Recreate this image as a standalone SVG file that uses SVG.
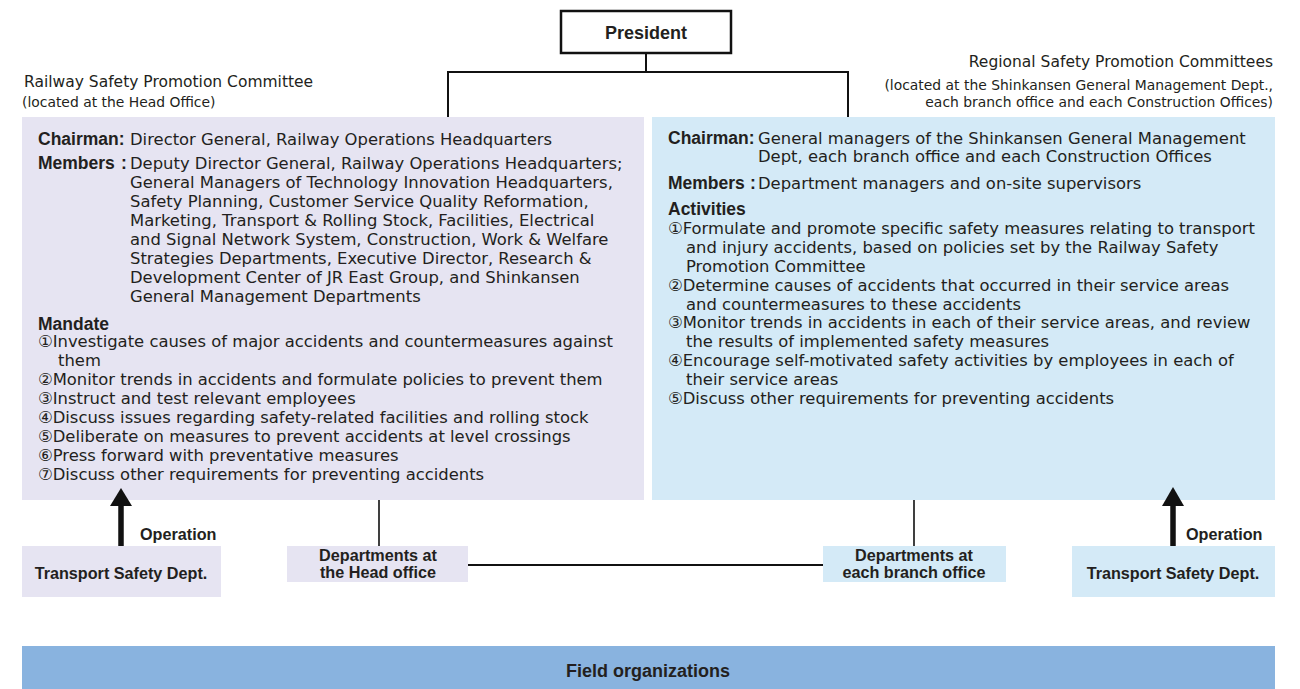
<svg xmlns="http://www.w3.org/2000/svg" width="1300" height="689" viewBox="0 0 1300 689">
<defs>
<style>
text{font-family:"DejaVu Sans","Noto Sans CJK JP",sans-serif;fill:#231f20}
.lb{font-family:"Liberation Sans","DejaVu Sans",sans-serif;font-weight:bold}
.t{font-size:16.4px}
.k{font-size:17.5px}
.h{font-size:16.2px}
.s{font-size:13.9px}
.lav{fill:#e6e4f2}
.blu{fill:#d4eaf7}
.ln{stroke:#111;stroke-width:2;fill:none}
.thin{stroke:#111;stroke-width:1.6;fill:none}
.shaft{stroke:#111;stroke-width:5.5;fill:none}
.head{fill:#111}
.mid{text-anchor:middle}
.end{text-anchor:end}
</style>
</defs>
<rect width="1300" height="689" fill="#fff"/>

<g id="president">
<rect x="561" y="11" width="170" height="42" fill="#fff" stroke="#111" stroke-width="2.5"/>
<text class="lb mid" x="646" y="39" font-size="18">President</text>
</g>

<g id="railway-committee">
<text x="24" y="87" font-size="15.5">Railway Safety Promotion Committee</text>
<text class="s" x="22" y="107">(located at the Head Office)</text>
<rect class="lav" x="22" y="117" width="622" height="383"/>
<text class="lb k" x="38" y="145">Chairman:</text>
<text class="t" x="130" y="145">Director General, Railway Operations Headquarters</text>
<text class="lb k" x="38" y="169">Members</text><text class="lb k" x="121" y="169">:</text>
<text class="t" x="130" y="169">Deputy Director General, Railway Operations Headquarters;</text>
<text class="t" x="130" y="188">General Managers of Technology Innovation Headquarters,</text>
<text class="t" x="130" y="207">Safety Planning, Customer Service Quality Reformation,</text>
<text class="t" x="130" y="226">Marketing, Transport &amp; Rolling Stock, Facilities, Electrical</text>
<text class="t" x="130" y="245">and Signal Network System, Construction, Work &amp; Welfare</text>
<text class="t" x="130" y="264">Strategies Departments, Executive Director, Research &amp;</text>
<text class="t" x="130" y="283">Development Center of JR East Group, and Shinkansen</text>
<text class="t" x="130" y="302">General Management Departments</text>
<text class="lb k" x="38" y="330">Mandate</text>
<text class="t" x="38" y="347">①Investigate causes of major accidents and countermeasures against</text>
<text class="t" x="58" y="366">them</text>
<text class="t" x="38" y="385">②Monitor trends in accidents and formulate policies to prevent them</text>
<text class="t" x="38" y="404">③Instruct and test relevant employees</text>
<text class="t" x="38" y="423">④Discuss issues regarding safety-related facilities and rolling stock</text>
<text class="t" x="38" y="442">⑤Deliberate on measures to prevent accidents at level crossings</text>
<text class="t" x="38" y="461">⑥Press forward with preventative measures</text>
<text class="t" x="38" y="480">⑦Discuss other requirements for preventing accidents</text>
</g>

<g id="regional-committees">
<text class="end" x="1273" y="67" font-size="15.5">Regional Safety Promotion Committees</text>
<text class="s end" x="1273" y="90">(located at the Shinkansen General Management Dept.,</text>
<text class="s end" x="1273" y="107">each branch office and each Construction Offices)</text>
<rect class="blu" x="652" y="117" width="623" height="383"/>
<text class="lb k" x="668" y="144">Chairman:</text>
<text class="t" x="758" y="144">General managers of the Shinkansen General Management</text>
<text class="t" x="758" y="162">Dept, each branch office and each Construction Offices</text>
<text class="lb k" x="668" y="189">Members</text><text class="lb k" x="750" y="189">:</text>
<text class="t" x="758" y="189">Department managers and on-site supervisors</text>
<text class="lb k" x="668" y="215">Activities</text>
<text class="t" x="668" y="234">①Formulate and promote specific safety measures relating to transport</text>
<text class="t" x="686" y="253">and injury accidents, based on policies set by the Railway Safety</text>
<text class="t" x="686" y="272">Promotion Committee</text>
<text class="t" x="668" y="291">②Determine causes of accidents that occurred in their service areas</text>
<text class="t" x="686" y="310">and countermeasures to these accidents</text>
<text class="t" x="668" y="328">③Monitor trends in accidents in each of their service areas, and review</text>
<text class="t" x="686" y="347">the results of implemented safety measures</text>
<text class="t" x="668" y="366">④Encourage self-motivated safety activities by employees in each of</text>
<text class="t" x="686" y="385">their service areas</text>
<text class="t" x="668" y="404">⑤Discuss other requirements for preventing accidents</text>
</g>

<g id="transport-safety-left">
<rect class="lav" x="22" y="546" width="199" height="51"/>
<text class="lb h mid" x="121" y="579">Transport Safety Dept.</text>
</g>
<g id="dept-head-office">
<rect class="lav" x="287" y="546" width="181" height="36"/>
<text class="lb h mid" x="378" y="561">Departments at</text>
<text class="lb h mid" x="378" y="578">the Head office</text>
</g>
<g id="dept-branch-office">
<rect class="blu" x="823" y="546" width="183" height="36"/>
<text class="lb h mid" x="914" y="561">Departments at</text>
<text class="lb h mid" x="914" y="578">each branch office</text>
</g>
<g id="transport-safety-right">
<rect class="blu" x="1072" y="546" width="203" height="51"/>
<text class="lb h mid" x="1173" y="579">Transport Safety Dept.</text>
</g>
<g id="field-organizations">
<rect x="22" y="646" width="1253" height="43" fill="#89b3df"/>
<text class="lb mid" x="648" y="677" font-size="18">Field organizations</text>
</g>

<g id="connectors">
<path class="ln" d="M646,53 V72 M448,117 V72 H848 V117"/>
<path class="thin" d="M379,500 V546 M914,500 V546"/>
<path class="ln" d="M468,565 H823"/>
<path class="shaft" d="M121,546 V504"/>
<path class="head" d="M110,506 L121,488 L132,506 Z"/>
<path class="shaft" d="M1173,546 V504"/>
<path class="head" d="M1162,506 L1173,487 L1184,506 Z"/>
<text class="lb h" x="140" y="540">Operation</text>
<text class="lb h" x="1186" y="540">Operation</text>
</g>
</svg>
